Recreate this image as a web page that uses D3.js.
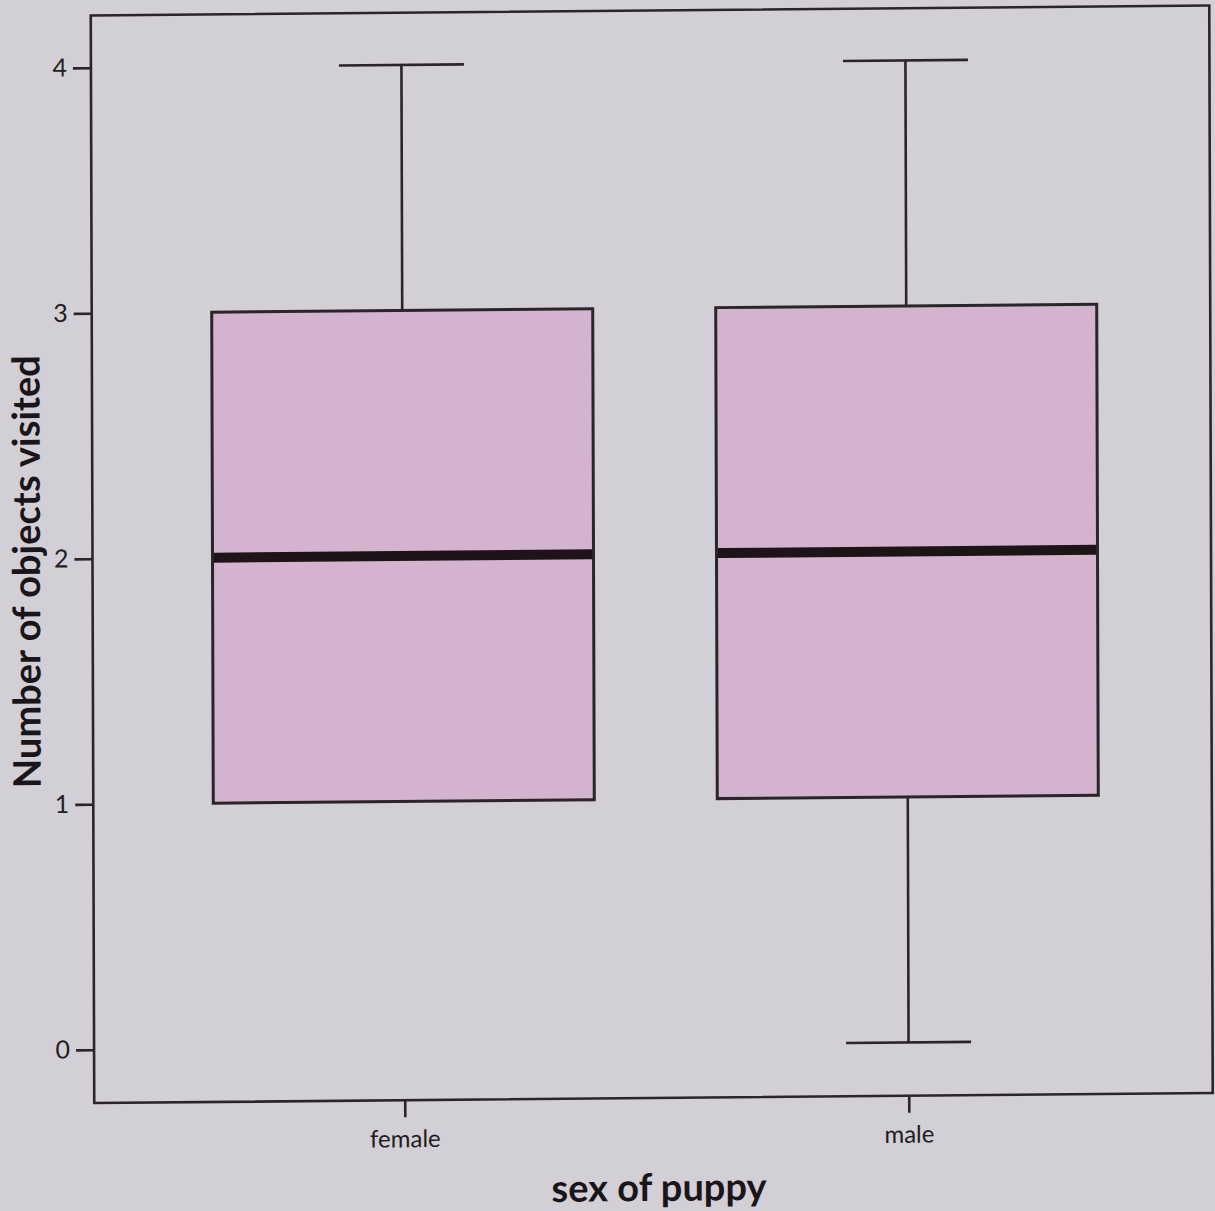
<!DOCTYPE html>
<html>
<head>
<meta charset="utf-8">
<script src="https://cdn.jsdelivr.net/npm/d3@7"></script>
<style>
  html, body { margin: 0; padding: 0; background: #d3cfd6; }
  svg { display: block; }
</style>
</head>
<body>
<svg id="chart" width="1215" height="1211"></svg>
<script>
// Box-plot summary per sex of puppy
const categories = ["female", "male"];
const whiskerLow  = [1, 0];
const quartile1   = [1, 1];
const medians     = [2, 2];
const quartile3   = [3, 3];
const whiskerHigh = [4, 4];
const yTicks = [0, 1, 2, 3, 4];

const W = 1215, H = 1211;
const frame = { left: 92.5, right: 1211, top: 10.5, bottom: 1098 };

const svg = d3.select("#chart");
svg.append("rect").attr("width", W).attr("height", H).attr("fill", "#d3cfd6");

// the printed figure sits slightly askew on the page
const cx = 651.75, cy = 554.25, shX = 0.0032, shY = -0.009;
const g = svg.append("g")
  .attr("transform", `matrix(1,${shY},${shX},1,${-shX * cy},${-shY * cx})`);

const y = d3.scaleLinear().domain([0, 4]).range([1044.7, 62.7]);
const x = d3.scalePoint().domain(categories).range([403, 907]);

const ink = "#2a2528";
const boxW = 381, capW = 125;
const font = "Lato, 'Open Sans', sans-serif";

const data = categories.map((c, i) => ({
  c, lo: whiskerLow[i], q1: quartile1[i], med: medians[i], q3: quartile3[i], hi: whiskerHigh[i]
}));

// whiskers
const wk = g.selectAll(".whisker").data(data).join("g").attr("class", "whisker")
  .attr("stroke", ink).attr("stroke-width", 2.6);
wk.append("line")
  .attr("x1", d => x(d.c)).attr("x2", d => x(d.c))
  .attr("y1", d => y(d.q3)).attr("y2", d => y(d.hi));
wk.append("line")
  .attr("x1", d => x(d.c) - capW / 2).attr("x2", d => x(d.c) + capW / 2)
  .attr("y1", d => y(d.hi)).attr("y2", d => y(d.hi));
wk.filter(d => d.lo < d.q1).append("line")
  .attr("x1", d => x(d.c)).attr("x2", d => x(d.c))
  .attr("y1", d => y(d.q1)).attr("y2", d => y(d.lo));
wk.filter(d => d.lo < d.q1).append("line")
  .attr("x1", d => x(d.c) - capW / 2).attr("x2", d => x(d.c) + capW / 2)
  .attr("y1", d => y(d.lo)).attr("y2", d => y(d.lo));

// boxes
g.selectAll(".box").data(data).join("rect").attr("class", "box")
  .attr("x", d => x(d.c) - boxW / 2).attr("width", boxW)
  .attr("y", d => y(d.q3)).attr("height", d => y(d.q1) - y(d.q3))
  .attr("fill", "#d4b3cf").attr("stroke", ink).attr("stroke-width", 3);

// medians
g.selectAll(".median").data(data).join("line").attr("class", "median")
  .attr("x1", d => x(d.c) - boxW / 2 + 1.5).attr("x2", d => x(d.c) + boxW / 2 - 1.5)
  .attr("y1", d => y(d.med)).attr("y2", d => y(d.med))
  .attr("stroke", "#1e1417").attr("stroke-width", 10);

// plot frame
g.append("rect")
  .attr("x", frame.left).attr("y", frame.top)
  .attr("width", frame.right - frame.left).attr("height", frame.bottom - frame.top)
  .attr("fill", "none").attr("stroke", ink).attr("stroke-width", 2.6);

// y axis
const yAxis = g.append("g").attr("transform", `translate(${frame.left},0)`)
  .call(d3.axisLeft(y).tickValues(yTicks).tickFormat(d3.format("d")).tickSize(18).tickPadding(6));
yAxis.select(".domain").remove();
yAxis.selectAll(".tick line").attr("stroke", ink).attr("stroke-width", 2.6);
yAxis.selectAll(".tick text")
  .attr("fill", "#221d20").style("font-family", font).style("font-size", "25px");

// x axis
const xAxis = g.append("g").attr("transform", `translate(0,${frame.bottom})`)
  .call(d3.axisBottom(x).tickSize(17).tickPadding(13));
xAxis.select(".domain").remove();
xAxis.selectAll(".tick line").attr("stroke", ink).attr("stroke-width", 2.6);
xAxis.selectAll(".tick text")
  .attr("fill", "#221d20").style("font-family", font).style("font-size", "24px");

// axis titles
g.append("text")
  .attr("x", 657).attr("y", 1201)
  .attr("text-anchor", "middle")
  .attr("fill", "#1a1518")
  .style("font-family", font).style("font-weight", "700").style("font-size", "38px")
  .text("sex of puppy");

g.append("text")
  .attr("transform", "translate(40,566) rotate(-90)")
  .attr("text-anchor", "middle")
  .attr("fill", "#1a1518")
  .style("font-family", font).style("font-weight", "700").style("font-size", "38px")
  .text("Number of objects visited");
</script>
</body>
</html>
